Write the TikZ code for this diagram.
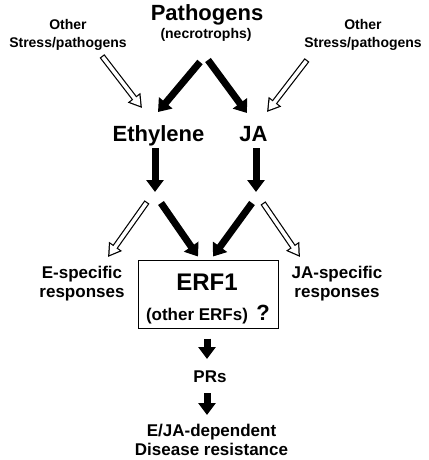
\documentclass[tikz,border=0pt]{standalone}
\usepackage{fontspec}
\setmainfont{Liberation Sans}
\usetikzlibrary{arrows.meta,calc}

\begin{document}
\begin{tikzpicture}[x=1pt, y=-1pt,
    bigtxt/.style = {font=\fontsize{22}{26}\selectfont\bfseries, inner sep=1pt},
    midtxt/.style = {font=\fontsize{17}{19}\selectfont\bfseries, inner sep=1pt, align=center},
    smalltxt/.style = {font=\fontsize{14}{18}\selectfont\bfseries, inner sep=1pt, align=center},
    arrow/.style = {draw=black, line width=7pt, -{Triangle[length=12pt,width=17pt]}},
    hollow/.style = {draw=black, line width=6pt, -{Triangle[length=13pt,width=15pt]},
        postaction={draw=white, line width=3.6pt, shorten >=2.4pt, shorten <=1.2pt,
        -{Triangle[length=9.4pt,width=10.8pt]}}},
    erfbox/.style = {draw=black, line width=1pt, minimum width=140pt, minimum height=68pt}
]
\useasboundingbox (0,0) rectangle (428,460);

% Nodes
\node (patho) [bigtxt, anchor=base] at (207,21) {Pathogens};
\node (necro) [font=\fontsize{14}{16}\selectfont\bfseries, anchor=base] at (206,38) {(necrotrophs)};
\node (otherL) [smalltxt] at (68,35.4) {Other\\Stress/pathogens};
\node (otherR) [smalltxt] at (363,35.4) {Other\\Stress/pathogens};
\node (eth) [bigtxt, anchor=base] at (158.5,141) {Ethylene};
\node (ja) [bigtxt, anchor=base] at (253.5,141) {JA};
\node (espec) [midtxt] at (82,284) {E-specific\\responses};
\node (jaspec) [midtxt] at (337,284) {JA-specific\\responses};
\node (box) [erfbox] at (208,294) {};
\node (erf) [font=\fontsize{24}{28}\selectfont\bfseries, anchor=base] at (207,290) {ERF1};
\node (others) [midtxt, anchor=base] at (197,320) {(other ERFs)};
\node (qmark) [bigtxt, anchor=base] at (263,320) {?};
\node (prs) [midtxt, anchor=base] at (210,382) {PRs};
\node (resist) [midtxt] at (211.5,440) {E/JA-dependent\\Disease resistance};

% Edges
\draw [arrow] ($(necro.base)+(-6,24)$) -- ($(eth.base)+(-0.5,-29)$);
\draw [arrow] ($(necro.base)+(2,22)$) -- ($(ja.base)+(-6.5,-28)$);
\draw [hollow] ($(otherL)+(34,20.6)$) -- ($(eth.base)+(-16.5,-33)$);
\draw [hollow] ($(otherR)+(-56,24.6)$) -- ($(ja.base)+(13.5,-29)$);
\draw [arrow] ($(eth.base)+(-3.5,7)$) -- ($(eth.base)+(-3.5,51)$);
\draw [arrow] ($(ja.base)+(2.5,7)$) -- ($(ja.base)+(2.5,51)$);
\draw [hollow] ($(eth.base)+(-11.5,61)$) -- ($(espec)+(26,-27)$);
\draw [arrow] ($(eth.base)+(2.5,62)$) -- ($(box.north)+(-10,-3)$);
\draw [arrow] ($(ja.base)+(-1.5,62)$) -- ($(box.north)+(5,-3)$);
\draw [hollow] ($(ja.base)+(9.5,62)$) -- ($(jaspec)+(-37,-27)$);
\draw [arrow] ($(box.south)+(-1,10)$) -- ($(prs.base)+(-3,-23)$);
\draw [arrow] ($(prs.base)+(-3,11)$) -- ($(resist)+(-4.5,-25)$);

\end{tikzpicture}
\end{document}
